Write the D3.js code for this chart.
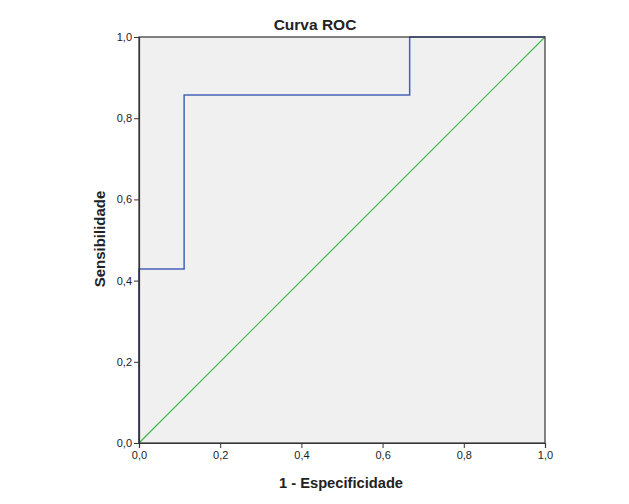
<!DOCTYPE html>
<html><head><meta charset="utf-8">
<script src="https://cdn.jsdelivr.net/npm/d3@7"></script>
<style>body{margin:0;background:#fff;} text{font-family:Arial,"Liberation Sans",sans-serif;}</style>
</head><body><svg id="c" width="629" height="504"></svg>
<script>
const rocX = [0, 0, 1/9, 1/9, 6/9, 6/9, 1];
const rocY = [0, 3/7, 3/7, 6/7, 6/7, 1, 1];
const refX = [0, 1];
const refY = [0, 1];
const tickVals = [0, 0.2, 0.4, 0.6, 0.8, 1.0];
const tickLabels = ["0,0", "0,2", "0,4", "0,6", "0,8", "1,0"];

const svg = d3.select("#c");
const L = 139, T = 37, R = 545, B = 443;
const x = d3.scaleLinear().domain([0,1]).range([L,R]);
const y = d3.scaleLinear().domain([0,1]).range([B,T]);

svg.append("rect").attr("x",L).attr("y",T).attr("width",R-L).attr("height",B-T).attr("fill","#f0f0f0");

const line = d3.line().x(d=>x(d[0])).y(d=>y(d[1]));
svg.append("path").datum(refX.map((v,i)=>[v,refY[i]])).attr("d",line).attr("fill","none").attr("stroke","#3fb84c").attr("stroke-width",1.2);
svg.append("path").datum(rocX.map((v,i)=>[v,rocY[i]])).attr("d",line).attr("fill","none").attr("stroke","#4461b8").attr("stroke-width",1.5);

// frame
svg.append("rect").attr("x",L).attr("y",T).attr("width",R-L).attr("height",B-T).attr("fill","none").attr("stroke","#333").attr("stroke-width",1.2);

const xa = svg.append("g").attr("transform",`translate(0,${B})`)
  .call(d3.axisBottom(x).tickValues(tickVals).tickFormat((d,i)=>tickLabels[i]).tickSize(5).tickPadding(3));
const ya = svg.append("g").attr("transform",`translate(${L},0)`)
  .call(d3.axisLeft(y).tickValues(tickVals).tickFormat((d,i)=>tickLabels[i]).tickSize(5).tickPadding(2));
[xa,ya].forEach(a=>{
  a.select(".domain").attr("stroke","#333").attr("stroke-width",1.2);
  a.selectAll(".tick line").attr("stroke","#333");
  a.selectAll("text").attr("font-size",11).attr("fill","#222").style("font-family","Arial, 'Liberation Sans', sans-serif");
});

svg.append("text").attr("x",315).attr("y",30).attr("text-anchor","middle").attr("font-size",15.5).attr("font-weight","bold").attr("fill","#222").text("Curva ROC");
svg.append("text").attr("x",341).attr("y",488).attr("text-anchor","middle").attr("font-size",14.7).attr("font-weight","bold").attr("fill","#222").text("1 - Especificidade");
svg.append("text").attr("transform",`translate(105,239) rotate(-90)`).attr("text-anchor","middle").attr("font-size",15).attr("font-weight","bold").attr("fill","#222").text("Sensibilidade");
</script></body></html>
